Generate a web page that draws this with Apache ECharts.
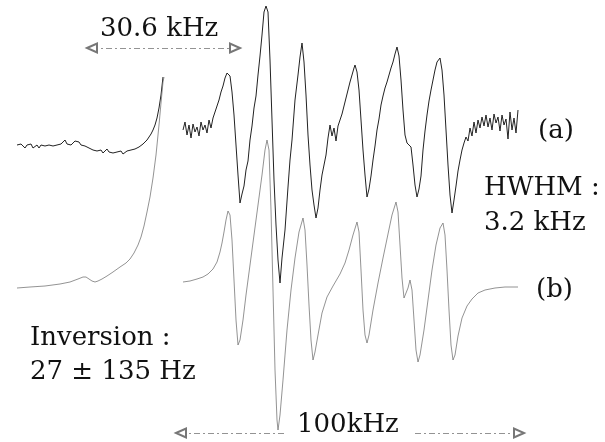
<!DOCTYPE html>
<html>
<head>
<meta charset="utf-8">
<script src="https://cdn.jsdelivr.net/npm/echarts@6/dist/echarts.min.js"></script>
<style>
  html, body { margin: 0; padding: 0; background: #fff; }
  #chart { width: 605px; height: 442px; }
</style>
</head>
<body>
<div id="chart"></div>
<script>
// 实验谱 (a)，左半段（噪声基线 + 上升沿）
var specALeft = [
  [17,145],[19,147],[21,144],[23,146],[25,148],[27,145],[29,147],[31,144],[33,148],[35,146],
  [37,145],[39,148],[41,145],[43,147],[45,146],[47,148],[49,145],[51,147],[53,146],[55,147],
  [57,145],[59,146],[61,144],[63,145],[65,140],[67,144],[69,142],[71,145],[73,143],[75,141],
  [77,143],[79,142],[81,145],[83,144],[85,146],[87,145],[89,148],[91,149],[93,150],[95,152],
  [97,151],[99,153],[101,150],[103,153],[105,151],[107,149],[109,152],[111,150],[113,153],[115,151],
  [117,152],[119,154],[121,151],[123,154],[125,152],[127,151],[129,152],[131,150],[133,151],[135,149],
  [137,150],[139,147],[141,146],[143,144],[145,143],[147,140],[149,138],[151,134],[153,130],[155,125],
  [157,118],[159,108],[161,95],[163,77]
];

// 实验谱 (a)，右半段
var specARight = [
  [183,130],[185,122],[187,135],[189,125],[191,138],[193,124],[195,132],[197,127],[199,136],[201,122],
  [203,130],[205,125],[207,133],[209,120],[211,128],[213,118],[215,112],[217,106],[219,100],[221,92],
  [223,86],[225,78],[227,73],[228,71],[230,76],[232,92],[234,115],[236,145],[238,175],[240,203],
  [242,194],[244,186],[246,170],[248,161],[250,140],[252,126],[254,108],[256,96],[258,75],[260,56],
  [262,35],[264,12],[266,6],[268,12],[270,60],[272,120],[274,180],[276,225],[278,260],[280,283],
  [282,258],[285,230],[288,187],[290,160],[292,140],[295,100],[298,75],[300,57],[302,43],[304,62],
  [306,95],[308,135],[310,165],[312,190],[314,205],[316,218],[318,208],[320,190],[322,175],[324,165],
  [326,155],[328,138],[330,125],[332,136],[334,128],[336,141],[338,126],[340,120],[342,114],[344,106],
  [346,98],[348,90],[350,82],[352,75],[354,68],[355,65],[357,72],[359,90],[361,120],[363,150],
  [365,175],[367,197],[369,189],[371,176],[373,160],[375,146],[377,130],[379,119],[381,105],[383,96],
  [385,88],[387,82],[389,75],[391,68],[393,62],[395,54],[397,47],[399,56],[401,80],[403,110],
  [405,135],[407,143],[409,141],[411,147],[413,165],[415,185],[417,197],[419,189],[421,176],[423,150],
  [425,131],[427,115],[429,101],[431,90],[433,80],[435,70],[437,62],[440,58],[442,70],[444,95],
  [446,130],[448,165],[450,195],[452,213],[454,200],[456,186],[458,171],[460,160],[462,150],[464,143],
  [466,137],[468,141],[470,128],[472,136],[474,122],[476,133],[478,120],[480,128],[482,117],[484,126],
  [486,115],[488,127],[490,118],[492,130],[494,114],[496,123],[498,117],[500,131],[502,115],[504,125],
  [506,119],[508,139],[510,112],[512,130],[514,118],[516,133],[518,110]
];

// 模拟谱 (b)，左半段
var specBLeft = [
  [17,288],[30,287],[45,286],[60,284],[70,282],[78,279],[83,277],[86,277],[89,279],[92,281],
  [95,282],[98,281],[102,279],[107,276],[113,272],[120,267],[126,263],[130,259],[134,253],[138,245],
  [141,237],[144,226],[147,212],[150,197],[153,178],[156,155],[159,125],[161,103],[163,82],[164,77]
];

// 模拟谱 (b)，右半段
var specBRight = [
  [183,282],[190,281],[197,279],[203,277],[208,274],[213,269],[217,262],[220,252],[222,243],[224,232],
  [226,220],[228,211],[230,215],[232,240],[234,280],[236,320],[238,345],[240,340],[243,320],[246,295],
  [250,265],[254,235],[258,205],[262,175],[265,150],[267,140],[269,150],[271,210],[273,290],[275,370],
  [277,420],[278,430],[280,415],[283,380],[287,330],[291,290],[295,258],[299,232],[303,218],[305,230],
  [307,265],[309,305],[311,340],[313,360],[315,352],[318,335],[322,313],[327,297],[333,286],[340,274],
  [345,263],[349,250],[353,235],[357,222],[359,232],[361,270],[363,310],[365,335],[367,343],[369,335],
  [373,310],[378,283],[383,258],[388,234],[392,215],[396,202],[398,212],[400,245],[402,278],[404,298],
  [406,300],[408,288],[410,280],[412,290],[414,320],[416,350],[418,362],[420,355],[424,330],[428,300],
  [432,270],[436,245],[440,228],[443,223],[445,235],[447,270],[449,310],[451,345],[453,360],[455,355],
  [458,336],[462,318],[467,306],[472,299],[478,293],[485,290],[495,288],[505,287],[518,287]
];

// 标尺箭头（起点、终点）
var arrow306 = [[92, 48], [235, 48]];
var arrow100Left = [[284, 433], [181, 433]];
var arrow100Right = [[415, 433], [519, 433]];

var serif = "'DejaVu Serif', 'Liberation Serif', serif";
var myChart = echarts.init(document.getElementById('chart'));

function arrowLine(pts, symbols) {
    return {
        silent: true,
        symbol: symbols,
        symbolSize: [9, 10],
        label: { show: false },
        lineStyle: { color: '#777', width: 0.8, type: [6, 3, 2, 3] },
        itemStyle: { color: '#fff', borderColor: '#666', borderWidth: 0.8 },
        data: [[{ coord: pts[0] }, { coord: pts[1] }]]
    };
}

function label(text, x, y) {
    return {
        type: 'text', x: x, y: y, silent: true,
        style: { text: text, fill: '#111', font: '26px ' + serif, verticalAlign: 'middle' }
    };
}

var option = {
    backgroundColor: '#fff',
    animation: false,
    grid: { left: 0, right: 0, top: 0, bottom: 0 },
    xAxis: { type: 'value', min: 0, max: 605, show: false },
    yAxis: { type: 'value', min: 0, max: 442, inverse: true, show: false },
    series: [
        { type: 'line', data: specALeft, showSymbol: false, lineStyle: { color: '#222', width: 1 },
          markLine: arrowLine(arrow306, ['emptyTriangle', 'emptyTriangle']) },
        { type: 'line', data: specARight, showSymbol: false, lineStyle: { color: '#222', width: 1 } },
        { type: 'line', data: specBLeft, showSymbol: false, lineStyle: { color: '#777', width: 0.8 },
          markLine: arrowLine(arrow100Left, ['none', 'emptyTriangle']) },
        { type: 'line', data: specBRight, showSymbol: false, lineStyle: { color: '#777', width: 0.8 },
          markLine: arrowLine(arrow100Right, ['none', 'emptyTriangle']) }
    ],
    graphic: [
        label('30.6 kHz', 100, 29),
        label('(a)', 538, 131),
        label('HWHM :', 484, 188),
        label('3.2 kHz', 484, 223),
        label('(b)', 536, 290),
        label('Inversion :', 30, 338),
        label('27 \u00b1 135 Hz', 30, 372),
        label('100kHz', 297, 425)
    ]
};

myChart.setOption(option);
</script>
</body>
</html>
